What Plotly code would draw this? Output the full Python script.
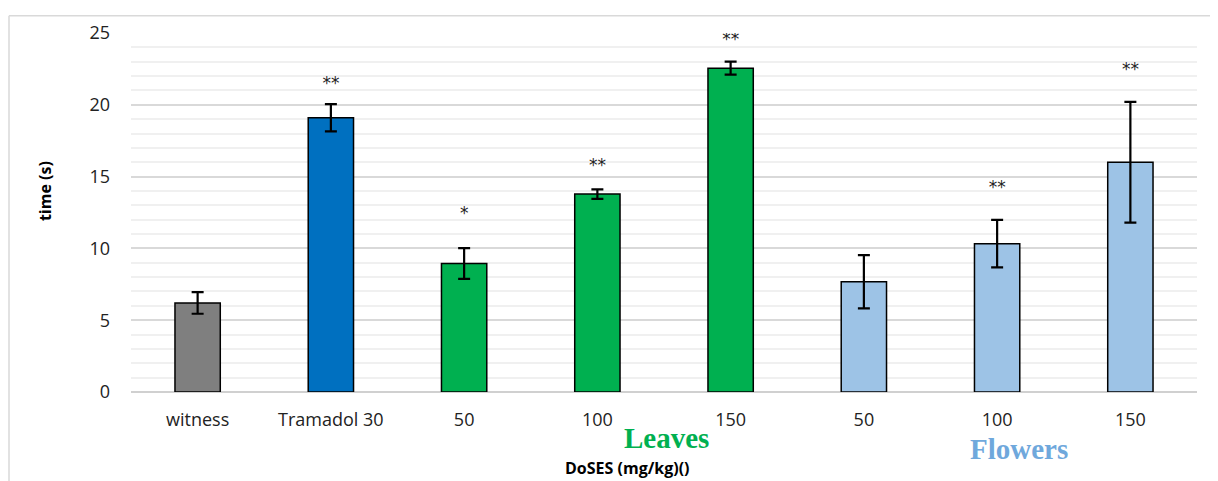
import plotly.graph_objects as go

categories = ["witness", "Tramadol 30", "50", "100", "150", "50", "100", "150"]
groups = ["witness", "tramadol", "leaves", "leaves", "leaves", "flowers", "flowers", "flowers"]
means = [6.2, 19.1, 8.95, 13.78, 22.55, 7.68, 10.33, 16.0]
errors = [0.75, 0.95, 1.07, 0.33, 0.45, 1.85, 1.65, 4.2]
stars = ["", "**", "*", "**", "**", "", "**", "**"]
star_y = [None, 21.4, 12.35, 15.7, 24.45, None, 14.15, 22.4]

group_colors = {"witness": "#7f7f7f", "tramadol": "#0070c0",
                "leaves": "#00b050", "flowers": "#9dc3e6"}

# page offset of the plot div inside the browser window (default body margin)
OFF = 8
W, H = 1218 - OFF, 481 - OFF
# target plot-area box in window pixels
PL, PR, PT, PB = 131, 1197, 29.5, 391.7
ML, MR, MT, MB = PL - OFF, (W + OFF) - PR, PT - OFF, (H + OFF) - PB
PW, PH = PR - PL, PB - PT

xpos = list(range(len(categories)))

fig = go.Figure()
fig.add_trace(go.Bar(
    x=xpos, y=means,
    marker=dict(color=[group_colors[g] for g in groups],
                line=dict(color="#000000", width=1.5)),
    width=0.34,
    error_y=dict(type="data", array=errors, visible=True,
                 color="#000000", thickness=2.2, width=6),
    showlegend=False, hoverinfo="skip",
))

sx = [x for x, s in zip(xpos, stars) if s]
sy = [y for y, s in zip(star_y, stars) if s]
st = [s for s in stars if s]
fig.add_trace(go.Scatter(
    x=sx, y=sy, text=st, mode="text",
    textfont=dict(family="DejaVu Sans", size=17, color="#222222"),
    showlegend=False, hoverinfo="skip",
))

font_main = "Open Sans, Lato, sans-serif"

fig.update_layout(
    width=W, height=H,
    margin=dict(l=ML, r=MR, t=MT, b=MB, pad=0),
    paper_bgcolor="white", plot_bgcolor="white",
    xaxis=dict(
        tickmode="array", tickvals=xpos, ticktext=categories,
        range=[-0.5, len(categories) - 0.5],
        showgrid=False, zeroline=False, showline=False,
        ticks="", tickfont=dict(family=font_main, size=18, color="#222222"),
        ticklabelstandoff=15,
    ),
    yaxis=dict(
        range=[0, 25], dtick=5, tick0=0,
        showgrid=True, gridcolor="#d9d9d9", gridwidth=1.5,
        minor=dict(dtick=1, showgrid=True, gridcolor="#f0f0f0", gridwidth=1.5),
        zeroline=True, zerolinecolor="#d0d0d0", zerolinewidth=2,
        showline=False, ticks="",
        tickfont=dict(family=font_main, size=18, color="#222222"),
        ticklabelstandoff=20,
    ),
)

def px_x(p):
    return (p - PL) / PW

def px_y(p):
    return 1 - (p - PT) / PH

# outer chart frame (left and top edges)
fig.add_shape(type="line", xref="paper", yref="paper",
              x0=px_x(9), x1=px_x(9), y0=px_y(12), y1=px_y(490),
              line=dict(color="#d9d9d9", width=1.5))
fig.add_shape(type="line", xref="paper", yref="paper",
              x0=px_x(9), x1=px_x(1230), y0=px_y(12), y1=px_y(12),
              line=dict(color="#d9d9d9", width=1.5))

def label(text, cx, cy, family, size, color, angle=0):
    fig.add_annotation(text=text, xref="paper", yref="paper",
                       x=px_x(cx), y=px_y(cy), xanchor="center", yanchor="middle",
                       textangle=angle, showarrow=False,
                       font=dict(family=family, size=size, color=color))

label("<b>time (s)</b>", 45, 189, font_main, 16, "#000000", angle=-90)
label("<b>DoSES (mg/kg)()</b>", 627, 468, font_main, 16, "#000000")
label("<b>Leaves</b>", 666, 438, "Liberation Serif", 29, "#00b050")
label("<b>Flowers</b>", 1019, 449, "Liberation Serif", 29, "#6fa8dc")

fig.write_html("out.html")
